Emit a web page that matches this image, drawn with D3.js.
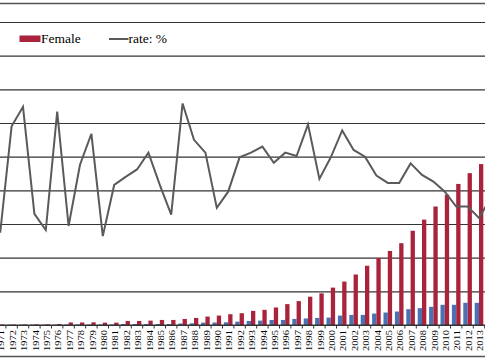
<!DOCTYPE html>
<html>
<head>
<meta charset="utf-8">
<script src="https://cdn.jsdelivr.net/npm/d3@7"></script>
<style>
  html, body { margin: 0; padding: 0; background: #fff; }
  svg { display: block; }
</style>
</head>
<body>
<svg id="chart" width="485" height="360"></svg>
<script>
// ---- data ----
const years = d3.range(1971, 2015).map(String);
const male = [100,100,100,100,100,100,150,150,150,150,150,300,300,300,300,300,450,500,700,750,
              800,1000,1200,1300,1500,1500,1800,1950,2100,2200,2800,3000,3000,3400,3700,4000,4700,5000,
              5400,6000,6000,6600,6600,6900];
const female = [150,150,150,200,200,300,750,750,800,700,700,1200,1200,1300,1500,1500,1800,2100,2500,2800,
                3200,3500,4200,4500,5200,6200,7100,8400,9400,11100,12900,15000,17600,19900,22000,24300,28000,31300,
                35200,38700,41900,45100,47800,50500];
const rate = [13.7,29.5,32.4,16.5,14.1,31.7,14.7,23.8,28.4,13.2,20.8,22.0,23.1,25.6,20.8,16.4,32.9,27.5,25.6,17.4,
              19.8,24.9,25.6,26.5,24.1,25.6,25.1,29.8,21.7,24.9,28.9,26.0,25.0,22.2,21.1,21.1,24.0,22.3,
              21.3,19.8,17.6,17.6,15.9,18.8];
const countTicks = d3.range(0, 90001, 10000);
const legendItems = ["Female", "rate: %"];

// ---- layout ----
const step = 11.4;
const firstCenter = 0.2;
const x0 = firstCenter - step / 2;
const baseY = 325, topY = 22;

const svg = d3.select("#chart");

const x = d3.scaleBand().domain(years)
  .range([x0, x0 + step * years.length])
  .paddingInner(0.245).paddingOuter(0.1225);
const xSub = d3.scaleBand().domain(["male", "female"]).range([0, x.bandwidth()]);
const y = d3.scaleLinear().domain([0, 90000]).range([baseY, topY]);
const yRate = d3.scaleLinear().domain([0, 45]).range([baseY, topY]);

// borders
svg.append("line").attr("x1", 0).attr("x2", 485).attr("y1", 3.5).attr("y2", 3.5)
  .attr("stroke", "#555").attr("stroke-width", 1.5);
svg.append("line").attr("x1", 0).attr("x2", 485).attr("y1", 356.5).attr("y2", 356.5)
  .attr("stroke", "#555").attr("stroke-width", 1.5);

// gridlines
const gy = d3.axisLeft(y).tickValues(countTicks).tickSize(-600).tickFormat("");
svg.append("g").attr("transform", "translate(-10,0)").call(gy)
  .call(g => g.select(".domain").remove())
  .selectAll("line").attr("stroke", "#333").attr("stroke-width", 1.2);

// bars
const groups = svg.append("g").selectAll("g").data(years).join("g")
  .attr("transform", d => `translate(${x(d)},0)`);
groups.append("rect")
  .attr("x", xSub("male")).attr("width", xSub.bandwidth())
  .attr("y", (d, i) => y(male[i])).attr("height", (d, i) => baseY - y(male[i]))
  .attr("fill", "#4a72b2");
groups.append("rect")
  .attr("x", xSub("female")).attr("width", xSub.bandwidth())
  .attr("y", (d, i) => y(female[i])).attr("height", (d, i) => baseY - y(female[i]))
  .attr("fill", "#a8233b");

// x axis with ticks between categories
const xAxis = svg.append("g").attr("transform", `translate(0,${baseY})`);
xAxis.append("line").attr("x1", 0).attr("x2", 485).attr("y1", 0).attr("y2", 0)
  .attr("stroke", "#333").attr("stroke-width", 1.2);
xAxis.selectAll("line.tk").data(years).join("line").attr("class", "tk")
  .attr("x1", d => x(d) - x.step() * x.paddingInner() / 2)
  .attr("x2", d => x(d) - x.step() * x.paddingInner() / 2)
  .attr("y1", 0).attr("y2", 3.5).attr("stroke", "#333").attr("stroke-width", 1);
xAxis.selectAll("text").data(years).join("text")
  .attr("transform", d => `translate(${x(d) + x.bandwidth() / 2 + 1.8},5) rotate(-90) scale(1,0.72)`)
  .attr("text-anchor", "end")
  .attr("dominant-baseline", "central")
  .attr("font-family", "'Liberation Serif', 'Times New Roman', serif")
  .attr("font-size", "10.5px")
  .attr("fill", "#000")
  .text(d => d);

// rate line
const line = d3.line()
  .x((d, i) => x(years[i]) + x.bandwidth() / 2)
  .y(d => yRate(d));
svg.append("path").datum(rate).attr("d", line)
  .attr("fill", "none").attr("stroke", "#5a5a5a").attr("stroke-width", 2)
  .attr("stroke-linejoin", "miter");

// legend
const lg = svg.append("g").attr("font-family", "'Liberation Serif', 'Times New Roman', serif")
  .attr("font-size", "13.5px");
lg.append("rect").attr("x", 19.5).attr("y", 35.5).attr("width", 21).attr("height", 6.5).attr("fill", "#a8233b");
lg.append("text").attr("x", 41).attr("y", 43).text(legendItems[0]);
lg.append("line").attr("x1", 109).attr("x2", 128.5).attr("y1", 39).attr("y2", 39)
  .attr("stroke", "#5a5a5a").attr("stroke-width", 2);
lg.append("text").attr("x", 128.5).attr("y", 43).text(legendItems[1]);
</script>
</body>
</html>
